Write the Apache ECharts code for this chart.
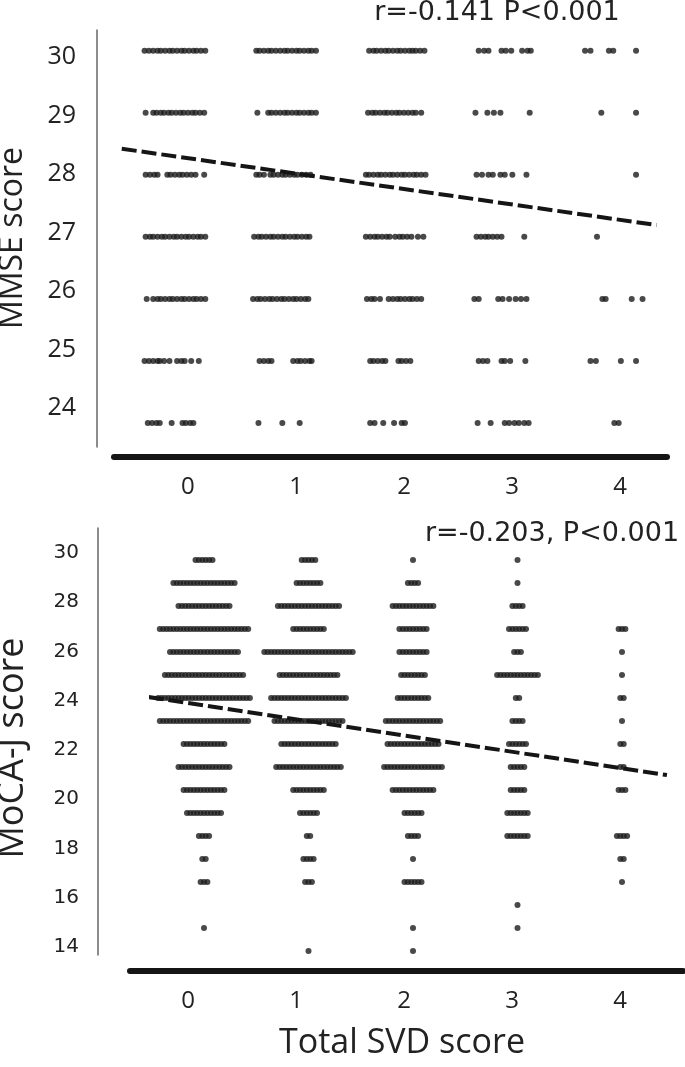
<!DOCTYPE html>
<html><head><meta charset="utf-8">
<script src="https://cdn.jsdelivr.net/npm/echarts@6/dist/echarts.min.js"></script>
<style>html,body{margin:0;padding:0;background:#fff}#c{width:685px;height:1067px}</style>
</head><body><div id="c"></div>
<script>
// ---------- data ----------
const svdCategories = [0, 1, 2, 3, 4];
const mmseTicks = [24, 25, 26, 27, 28, 29, 30];
const mocaTicks = [14, 16, 18, 20, 22, 24, 26, 28, 30];

// MMSE panel: plotted x (Total SVD score + horizontal jitter) of each dot, per MMSE score
const mmse30 = [-0.29,-0.25,-0.21,-0.17,-0.14,-0.10,-0.06,-0.03,0.01,0.05,0.08,0.12,0.16,0.19,0.23,0.27,
  0.74,0.77,0.81,0.85,0.88,0.92,0.96,1.00,1.03,1.07,1.11,1.14,1.18,1.22,1.25,1.29,
  1.78,1.82,1.85,1.89,1.93,1.96,2.00,2.04,2.07,2.11,2.15,2.18,2.21,2.25,2.29,
  2.79,2.84,2.88,3.00,3.04,3.09,3.19,3.24,3.27,
  3.77,3.82,3.99,4.03,4.24];
const mmse29 = [-0.28,-0.21,-0.18,-0.14,-0.11,-0.07,-0.04,0.00,0.04,0.07,0.11,0.15,0.18,0.22,0.26,
  0.75,0.85,0.88,0.92,0.96,1.00,1.03,1.07,1.11,1.14,1.18,1.22,1.25,1.29,
  1.77,1.81,1.84,1.88,1.92,1.95,1.99,2.03,2.06,2.10,2.14,2.18,2.21,2.26,
  2.76,2.87,2.93,2.99,3.26,
  3.92,4.24];
const mmse28 = [-0.28,-0.24,-0.20,-0.17,-0.08,-0.05,-0.01,0.03,0.06,0.10,0.14,0.18,0.26,
  0.74,0.77,0.81,0.87,0.90,0.94,0.98,1.01,1.05,1.09,1.12,1.16,1.20,1.24,
  1.75,1.78,1.82,1.86,1.89,1.93,1.97,2.00,2.04,2.08,2.11,2.15,2.19,2.22,2.26,2.30,
  2.77,2.82,2.88,2.92,2.99,3.03,3.10,3.23,
  4.24];
const mmse27 = [-0.28,-0.24,-0.21,-0.17,-0.13,-0.10,-0.06,-0.02,0.01,0.05,0.09,0.12,0.16,0.20,0.23,0.27,
  0.72,0.76,0.79,0.83,0.87,0.90,0.94,0.98,1.01,1.05,1.09,1.12,1.16,1.20,1.23,
  1.75,1.79,1.83,1.86,1.90,1.94,1.97,2.02,2.06,2.09,2.13,2.17,2.23,2.28,
  2.77,2.81,2.85,2.88,2.92,2.96,3.00,3.21,
  3.88];
const mmse26 = [-0.27,-0.21,-0.17,-0.14,-0.10,-0.06,-0.03,0.01,0.05,0.08,0.12,0.16,0.19,0.23,0.27,
  0.71,0.75,0.78,0.82,0.86,0.89,0.93,0.97,1.00,1.04,1.08,1.11,1.15,1.19,1.22,
  1.76,1.80,1.83,1.88,1.96,2.00,2.04,2.07,2.11,2.15,2.18,2.22,2.26,
  2.75,2.79,2.97,3.01,3.07,3.13,3.18,3.23,
  3.93,3.96,4.20,4.30];
const mmse25 = [-0.29,-0.25,-0.21,-0.17,-0.15,-0.11,-0.06,0.01,0.05,0.08,0.14,0.21,
  0.77,0.81,0.85,0.88,1.08,1.12,1.15,1.19,1.23,1.25,
  1.79,1.82,1.86,1.90,1.93,2.05,2.08,2.12,2.16,
  2.79,2.83,2.87,3.00,3.03,3.08,3.22,
  3.82,3.87,4.10,4.24];
const mmse24 = [-0.26,-0.22,-0.18,-0.15,-0.04,0.06,0.09,0.13,0.16,
  0.76,0.98,1.14,
  1.79,1.83,1.91,2.01,2.08,2.11,
  2.78,2.90,3.03,3.07,3.12,3.16,3.21,3.25,
  4.04,4.08];
const mmseRows = [mmse24, mmse25, mmse26, mmse27, mmse28, mmse29, mmse30];
const mmseFitX = [-0.50, 4.43];
const mmseFitY = [28.42, 27.19];

// MoCA-J panel: number of subjects at each MoCA-J score, per Total SVD score
const mocaScores = [30, 29, 28, 27, 26, 25, 24, 23, 22, 21, 20, 19, 18, 17, 16, 15, 14, 13];
const mocaCount0 = [6, 19, 16, 27, 21, 24, 28, 27, 13, 16, 13, 11, 4, 2, 3, 0, 1, 0];
const mocaCount1 = [5, 8, 19, 10, 27, 18, 23, 21, 17, 20, 10, 6, 2, 4, 3, 0, 0, 1];
const mocaCount2 = [1, 4, 13, 9, 9, 8, 10, 17, 16, 18, 13, 6, 4, 1, 6, 0, 1, 1];
const mocaCount3 = [1, 1, 4, 6, 3, 13, 2, 4, 6, 5, 5, 7, 7, 0, 0, 1, 1, 0];
const mocaCount4 = [0, 0, 0, 3, 1, 1, 2, 1, 2, 2, 3, 0, 4, 2, 1, 0, 0, 0];
const mocaCounts = [mocaCount0, mocaCount1, mocaCount2, mocaCount3, mocaCount4];
const mocaFitX = [-0.53, 4.43];
const mocaFitY = [24.04, 20.65];

// ---------- build ----------
const mmsePoints = [];
mmseRows.forEach((xs, i) => xs.forEach(x => mmsePoints.push([x, mmseTicks[i]])));

// centred dot-plot layout for the MoCA-J panel
const mocaGrid = {left: 151.75, top: 548.5, width: 522.5, height: 414};
const dotStepPx = 3.4;
const mocaUnitPx = mocaGrid.width / 5;
const mocaPoints = [];
mocaScores.forEach((s, r) => {
  mocaCounts.forEach((counts, c) => {
    const n = counts[r];
    for (let i = 0; i < n; i++) {
      mocaPoints.push([svdCategories[c] + (i - (n - 1) / 2) * dotStepPx / mocaUnitPx, s]);
    }
  });
});
const zip = (a, b) => a.map((v, i) => [v, b[i]]);

const dotColor = '#1c1c1c';
const dotSize = 6;
const fitStyle = {type: [15, 5], width: 4, color: '#151515'};
const hiddenX = g => ({gridIndex: g, type: 'value', min: 0, max: 1, show: false});
const hiddenY = g => ({gridIndex: g, type: 'value', min: 0, max: 1, show: false});

const chart = echarts.init(document.getElementById('c'), null, {renderer: 'canvas'});
chart.setOption({
  animation: false,
  backgroundColor: '#fff',
  grid: [
    {left: 121.75, top: 19.675, width: 542.5, height: 434.35, outerBoundsMode: 'none'},
    {left: 97, top: 30, width: 10, height: 417, outerBoundsMode: 'none'},
    {left: 114, top: 300, width: 553, height: 157, outerBoundsMode: 'none'},
    {left: mocaGrid.left, top: mocaGrid.top, width: mocaGrid.width, height: mocaGrid.height, outerBoundsMode: 'none'},
    {left: 98, top: 528, width: 10, height: 427, outerBoundsMode: 'none'},
    {left: 130, top: 871, width: 553, height: 100, outerBoundsMode: 'none'}
  ],
  xAxis: [
    {gridIndex: 0, type: 'value', min: -0.5, max: 4.5, show: false},
    hiddenX(1),
    {gridIndex: 2, type: 'value', min: -0.685, max: 4.435, position: 'bottom',
      axisLine: {show: true, onZero: false, lineStyle: {width: 6, color: '#151515'}},
      axisTick: {show: false}, splitLine: {show: false},
      axisLabel: {customValues: svdCategories, margin: 18, fontSize: 24, fontFamily: 'Open Sans', color: '#222'}},
    {gridIndex: 3, type: 'value', min: -0.5, max: 4.5, show: false},
    hiddenX(4),
    {gridIndex: 5, type: 'value', min: -0.537, max: 4.583, position: 'bottom',
      axisLine: {show: true, onZero: false, lineStyle: {width: 6, color: '#151515'}},
      axisTick: {show: false}, splitLine: {show: false},
      axisLabel: {customValues: svdCategories, margin: 18, fontSize: 24, fontFamily: 'Open Sans', color: '#222'}}
  ],
  yAxis: [
    {gridIndex: 0, type: 'value', min: 23.5, max: 30.5, show: false},
    {gridIndex: 1, type: 'value', min: 23.333, max: 30.4615, position: 'left',
      axisLine: {show: true, onZero: false, lineStyle: {width: 1.5, color: '#666'}},
      axisTick: {show: false}, splitLine: {show: false},
      axisLabel: {customValues: mmseTicks, margin: 21, fontSize: 25, fontFamily: 'Open Sans', color: '#222'}},
    hiddenY(2),
    {gridIndex: 3, type: 'value', min: 12.5, max: 30.5, show: false},
    {gridIndex: 4, type: 'value', min: 13.675, max: 31.015, position: 'left',
      axisLine: {show: true, onZero: false, lineStyle: {width: 1.5, color: '#666'}},
      axisTick: {show: false}, splitLine: {show: false},
      axisLabel: {customValues: mocaTicks, margin: 19, fontSize: 20, fontFamily: 'DejaVu Sans', color: '#222'}},
    hiddenY(5)
  ],
  series: [
    {type: 'scatter', xAxisIndex: 0, yAxisIndex: 0, data: mmsePoints, symbolSize: dotSize,
      itemStyle: {color: dotColor}, silent: true, z: 2},
    {type: 'line', xAxisIndex: 0, yAxisIndex: 0, data: zip(mmseFitX, mmseFitY), showSymbol: false, symbol: 'none',
      lineStyle: fitStyle, clip: false, silent: true, z: 3},
    {type: 'scatter', xAxisIndex: 3, yAxisIndex: 3, data: mocaPoints, symbolSize: dotSize,
      itemStyle: {color: dotColor}, silent: true, z: 2},
    {type: 'line', xAxisIndex: 3, yAxisIndex: 3, data: zip(mocaFitX, mocaFitY), showSymbol: false, symbol: 'none',
      lineStyle: fitStyle, clip: false, silent: true, z: 3}
  ],
  graphic: [
    {type: 'text', x: 497, y: 12.5, style: {text: 'r=-0.141 P<0.001', font: '27px "DejaVu Sans"', fill: '#222', textAlign: 'center', textVerticalAlign: 'middle'}},
    {type: 'text', x: 552, y: 533.5, style: {text: 'r=-0.203, P<0.001', font: '27px "DejaVu Sans"', fill: '#222', textAlign: 'center', textVerticalAlign: 'middle'}},
    {type: 'text', x: 13, y: 238, rotation: Math.PI / 2, style: {text: 'MMSE score', font: '32px "Open Sans"', fill: '#222', textAlign: 'center', textVerticalAlign: 'middle'}},
    {type: 'text', x: 13, y: 748, rotation: Math.PI / 2, style: {text: 'MoCA-J score', font: '36px "Open Sans"', fill: '#222', textAlign: 'center', textVerticalAlign: 'middle'}},
    {type: 'text', x: 402, y: 1043, style: {text: 'Total SVD score', font: '34px "Open Sans"', fill: '#222', textAlign: 'center', textVerticalAlign: 'middle'}}
  ]
});
</script></body></html>
